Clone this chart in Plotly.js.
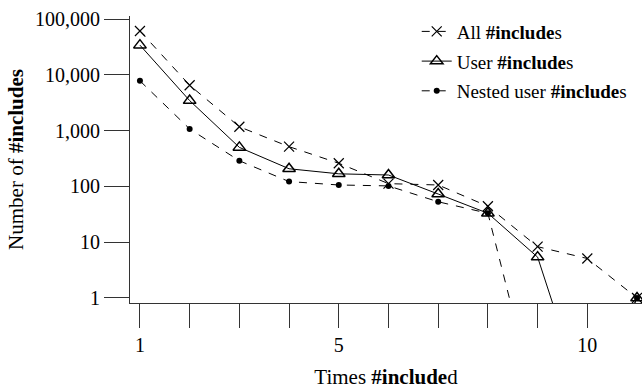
<!DOCTYPE html>
<html>
<head>
<meta charset="utf-8">
<script src="https://cdn.plot.ly/plotly-3.0.1.min.js"></script>
<style>html,body{margin:0;padding:0;background:#fff;}#chart{width:642px;height:389px;}</style>
</head>
<body>
<div id="chart"></div>
<script>
// Data (0.01 stands for a count of zero, drawn below the axis)
var timesIncluded = [1, 2, 3, 4, 5, 6, 7, 8, 9, 10, 11];
var allIncludes = [61000, 6500, 1170, 515, 260, 112, 106, 44, 8.3, 5.1, 1];
var userIncludes = [34000, 3450, 500, 207, 168, 160, 73, 33, 5.4, 0.01, 1];
var nestedUserIncludes = [7800, 1070, 288, 122, 106, 102, 53, 33, 0.01, 0.01, 1];
var seriesNames = ['All <b>#include</b>s', 'User <b>#include</b>s', 'Nested user <b>#include</b>s'];
var xTickVals = [1, 2, 3, 4, 5, 6, 7, 8, 9, 10];
var xTickText = ['1', '', '', '', '5', '', '', '', '', '10'];
var yTickVals = [1, 10, 100, 1000, 10000, 100000];
var yTickText = ['1', '10', '100', '1,000', '10,000', '100,000'];

var serif = 'Liberation Serif, Times New Roman, serif';

var traces = [
  {
    x: timesIncluded, y: allIncludes, name: seriesNames[0], legendgroup: 'a',
    mode: 'lines+markers', type: 'scatter',
    line: {color: '#000', width: 1, dash: '8px,8px'},
    marker: {symbol: 'x-thin-open', size: 10, color: '#000', line: {color: '#000', width: 1.2}}
  },
  {
    x: timesIncluded, y: userIncludes, name: seriesNames[1], legendgroup: 'b',
    mode: 'lines+markers', type: 'scatter',
    line: {color: '#000', width: 1},
    marker: {symbol: 'triangle-up-open', size: 11, color: '#000', line: {color: '#000', width: 1.5}}
  },
  {
    x: timesIncluded, y: nestedUserIncludes, name: seriesNames[2], legendgroup: 'c',
    mode: 'lines+markers', type: 'scatter',
    line: {color: '#000', width: 1, dash: '8px,8px'},
    marker: {symbol: 'circle', size: 6, color: '#000'}
  }
];

var layout = {
  width: 642, height: 389,
  margin: {l: 130, r: 0, t: 16, b: 86},
  paper_bgcolor: '#fff', plot_bgcolor: '#fff',
  font: {family: serif, size: 19, color: '#000'},
  showlegend: true,
  legend: {
    x: 0.56, y: 1.012, xanchor: 'left', yanchor: 'top',
    font: {family: serif, size: 19, color: '#000'},
    bgcolor: 'rgba(0,0,0,0)', borderwidth: 0, tracegroupgap: 2
  },
  xaxis: {
    type: 'linear', range: [0.8, 11.1],
    tickmode: 'array', tickvals: xTickVals, ticktext: xTickText,
    ticks: 'outside', ticklen: 24, tickwidth: 1, tickcolor: '#333',
    showline: true, linecolor: '#333', linewidth: 1,
    showgrid: false, zeroline: false,
    tickfont: {family: serif, size: 20, color: '#000'},
    title: {text: 'Times <b>#include</b>d', font: {family: serif, size: 21, color: '#000'}, standoff: 19}
  },
  yaxis: {
    type: 'log', range: [-0.09, 5.054],
    tickmode: 'array', tickvals: yTickVals, ticktext: yTickText,
    ticks: 'outside', ticklen: 25, tickwidth: 1, tickcolor: '#333',
    showline: true, linecolor: '#333', linewidth: 1,
    showgrid: false, zeroline: false,
    tickfont: {family: serif, size: 20, color: '#000'},
    title: {text: 'Number of <b>#includes</b>', font: {family: serif, size: 21, color: '#000'}, standoff: 5}
  }
};

Plotly.newPlot('chart', traces, layout, {displayModeBar: false, staticPlot: true});
</script>
</body>
</html>
